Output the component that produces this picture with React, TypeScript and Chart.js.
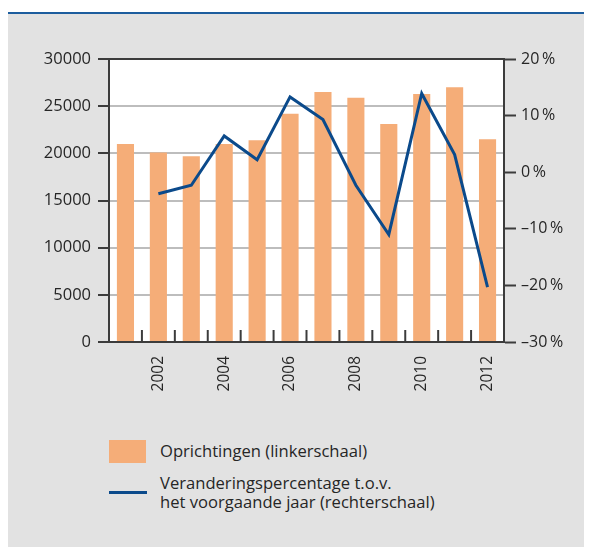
import React, { useEffect, useRef } from "react";
import { Chart, registerables } from "chart.js";

Chart.register(...registerables);

const years = ["2001", "2002", "2003", "2004", "2005", "2006", "2007", "2008", "2009", "2010", "2011", "2012"];
const oprichtingen = [21000, 20100, 19700, 21000, 21400, 24200, 26500, 25900, 23100, 26300, 27000, 21500];
const verandering = [null, -3.8, -2.3, 6.4, 2.2, 13.3, 9.3, -2.3, -11.0, 13.9, 3.1, -20.3];
const leftTicks = [0, 5000, 10000, 15000, 20000, 25000, 30000];
const rightTicks = [-30, -20, -10, 0, 10, 20];
const barLabel = "Oprichtingen (linkerschaal)";
const lineLabelLines = ["Veranderingspercentage t.o.v.", "het voorgaande jaar (rechterschaal)"];

const FONT = "'Open Sans', 'Noto Sans', sans-serif";
const DARK = "#3c3c3c";
const TEXT = "#262626";
const BAR = "#f5ad78";
const LINE = "#0b4a8b";

const innerTicks = {
  id: "innerTicks",
  beforeDatasetsDraw(chart: any) {
    const x = chart.scales.x;
    const area = chart.chartArea;
    const ctx = chart.ctx;
    ctx.save();
    ctx.strokeStyle = DARK;
    ctx.lineWidth = 2;
    for (let i = 0; i < years.length - 1; i++) {
      const px = (x.getPixelForValue(i) + x.getPixelForValue(i + 1)) / 2;
      ctx.beginPath();
      ctx.moveTo(px, area.bottom);
      ctx.lineTo(px, area.bottom - 12);
      ctx.stroke();
    }
    ctx.restore();
  },
};

const whiteArea = {
  id: "whiteArea",
  beforeDraw(chart: any) {
    const a = chart.chartArea;
    const ctx = chart.ctx;
    ctx.save();
    ctx.fillStyle = "#ffffff";
    ctx.fillRect(a.left, a.top, a.right - a.left, a.bottom - a.top);
    ctx.restore();
  },
};

export default function App() {
  const ref = useRef<HTMLCanvasElement>(null);
  useEffect(() => {
    if (!ref.current) return;
    const chart = new Chart(ref.current, {
      type: "bar",
      data: {
        labels: years,
        datasets: [
          {
            type: "line",
            label: lineLabelLines.join(" "),
            data: verandering as any,
            yAxisID: "y1",
            borderColor: LINE,
            backgroundColor: LINE,
            borderWidth: 3,
            pointRadius: 0,
            tension: 0,
            spanGaps: false,
          } as any,
          {
            type: "bar",
            label: barLabel,
            data: oprichtingen,
            yAxisID: "y",
            backgroundColor: BAR,
            borderWidth: 0,
            categoryPercentage: 1,
            barPercentage: 0.52,
          },
        ],
      },
      options: {
        responsive: false,
        animation: false,
        layout: { padding: { top: 45, left: 0, right: 0, bottom: 0 } },
        plugins: { legend: { display: false }, tooltip: { enabled: false } },
        scales: {
          x: {
            offset: true,
            grid: { drawOnChartArea: false, drawTicks: false },
            border: { display: true, color: DARK, width: 2 },
            ticks: {
              autoSkip: false,
              minRotation: 90,
              maxRotation: 90,
              padding: 14,
              color: TEXT,
              font: { family: FONT, size: 15.5 },
              callback: (_v: any, i: number) => (Number(years[i]) % 2 === 0 ? years[i] : ""),
            },
            afterFit: (s: any) => {
              s.height = 72;
            },
          },
          y: {
            position: "left",
            min: 0,
            max: 30000,
            afterBuildTicks: (s: any) => {
              s.ticks = leftTicks.map((v) => ({ value: v }));
            },
            grid: {
              color: (c: any) => (c.tick && (c.tick.value === 30000 || c.tick.value === 0) ? DARK : "#bdbdbd"),
              lineWidth: 2,
              tickLength: 11,
              tickColor: DARK,
              tickWidth: 2,
            },
            border: { display: true, color: DARK, width: 2 },
            ticks: {
              padding: 7,
              color: TEXT,
              font: { family: FONT, size: 16.5 },
              callback: (v: any) => String(v),
            },
            afterFit: (s: any) => {
              s.width = 101;
            },
          },
          y1: {
            position: "right",
            min: -30,
            max: 20,
            afterBuildTicks: (s: any) => {
              s.ticks = rightTicks.map((v) => ({ value: v }));
            },
            grid: {
              drawOnChartArea: false,
              tickLength: 12,
              tickColor: DARK,
              tickWidth: 2,
            },
            border: { display: true, color: DARK, width: 2 },
            ticks: {
              padding: 5,
              color: TEXT,
              font: { family: FONT, size: 16 },
              callback: (v: any) => {
                const n = Number(v);
                return (n < 0 ? "\u2013" + Math.abs(n) : String(n)) + "\u2009%";
              },
            },
            afterFit: (s: any) => {
              s.width = 88;
            },
          },
        },
      },
      plugins: [whiteArea, innerTicks],
    });
    return () => chart.destroy();
  }, []);

  const textStyle: React.CSSProperties = {
    position: "absolute",
    fontFamily: FONT,
    fontSize: 16.6,
    color: TEXT,
    lineHeight: "19px",
    whiteSpace: "nowrap",
  };

  return (
    <div style={{ position: "relative", width: 584, height: 539, background: "#ffffff" }}>
      <div style={{ position: "absolute", left: 0, top: 4, width: 584, height: 2, background: "#1c5d9e" }} />
      <div style={{ position: "absolute", left: 0, top: 6, width: 584, height: 533, background: "#e2e2e2" }} />
      <canvas ref={ref} width={584} height={400} style={{ position: "absolute", left: 0, top: 6, width: 584, height: 400 }} />
      <div style={{ position: "absolute", left: 101, top: 432, width: 37, height: 23, background: BAR }} />
      <div style={{ ...textStyle, left: 152, top: 433 }}>{barLabel}</div>
      <div style={{ position: "absolute", left: 101, top: 483, width: 38, height: 3, background: LINE }} />
      <div style={{ ...textStyle, left: 152, top: 465 }}>
        {lineLabelLines.map((l, i) => (
          <div key={i}>{l}</div>
        ))}
      </div>
    </div>
  );
}
